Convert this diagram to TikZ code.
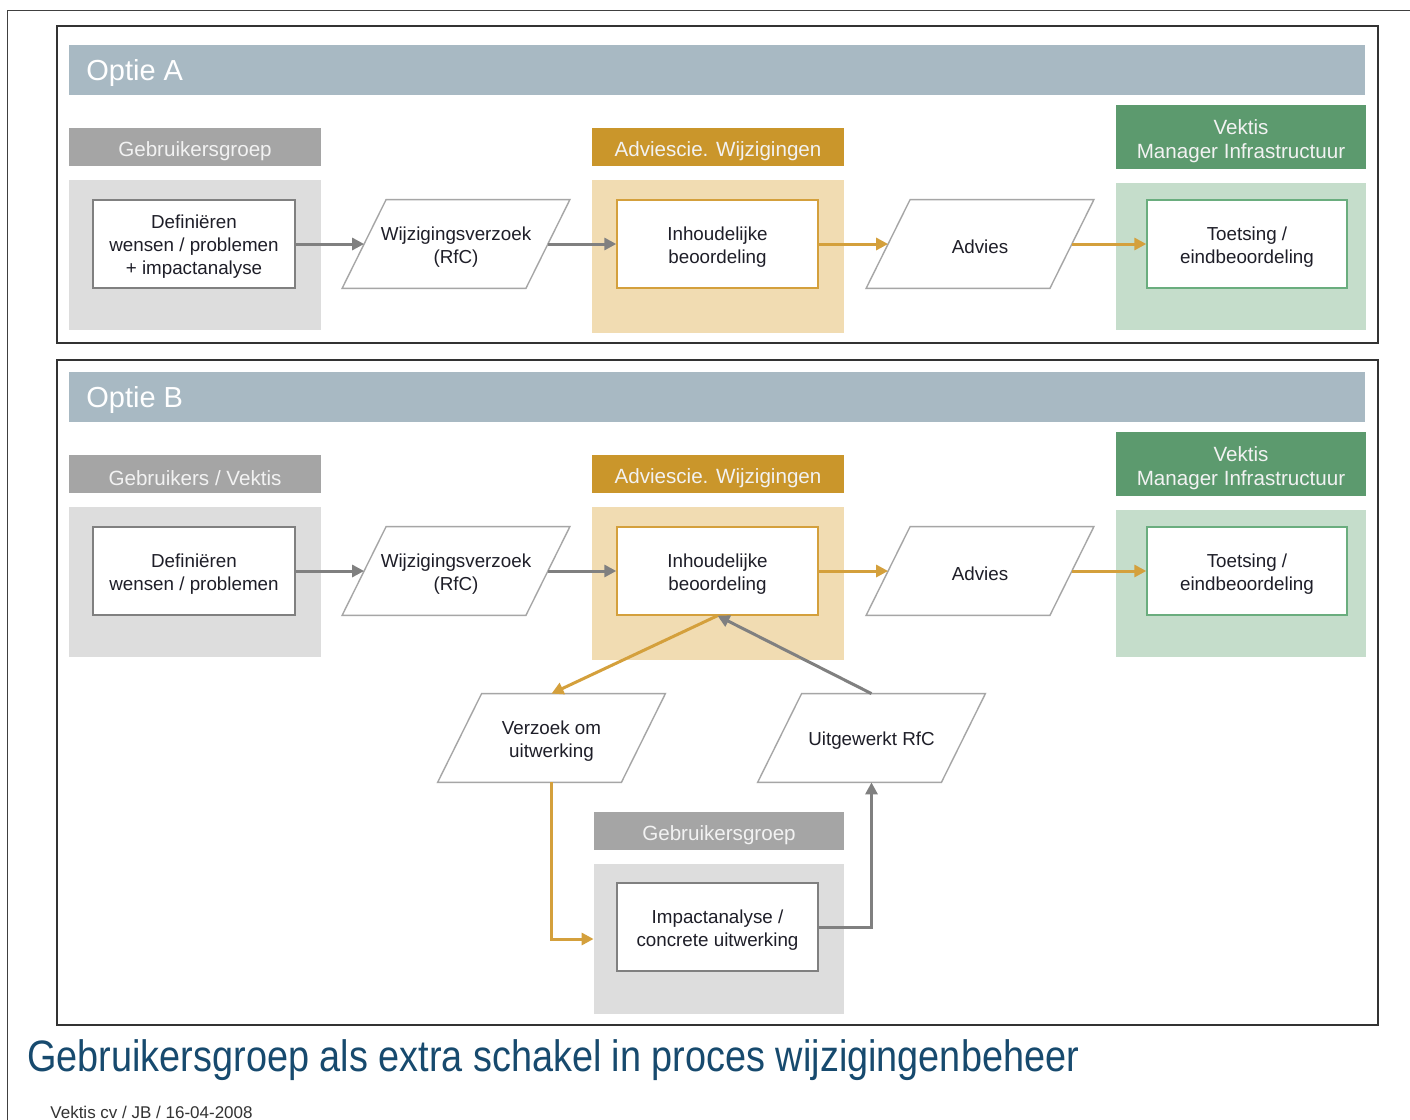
\documentclass[tikz,border=0pt]{standalone}
\usepackage{fontspec}
\setmainfont{Liberation Sans}
\newfontfamily\titlefont[FakeStretch=0.86]{Liberation Sans}
\usetikzlibrary{arrows.meta}

\definecolor{bandblue}{HTML}{A8B9C3}
\definecolor{lanegray}{HTML}{A5A5A5}
\definecolor{areagray}{HTML}{DDDDDD}
\definecolor{lanegold}{HTML}{CA962B}
\definecolor{areagold}{HTML}{F1DCB2}
\definecolor{linegold}{HTML}{D4A03C}
\definecolor{lanegreen}{HTML}{5C9A6E}
\definecolor{areagreen}{HTML}{C5DDCB}
\definecolor{linegreen}{HTML}{6AAD7E}
\definecolor{linegray}{HTML}{808080}
\definecolor{paragray}{HTML}{A6A6A6}
\definecolor{labeltext}{HTML}{F2F2F2}
\definecolor{boxtext}{HTML}{1E1E28}
\definecolor{titleblue}{HTML}{174A6E}

\tikzset{
    lanetext/.style={inner sep=0pt,align=center,text=labeltext,yshift=-2pt,
        font=\fontsize{10.3}{12}\selectfont},
    steptext/.style={inner sep=0pt,align=center,text=boxtext,yshift=-1.5pt,
        font=\fontsize{9.4}{11.5}\selectfont},
    lane/.style={minimum width=126pt,minimum height=19pt,inner sep=0pt,
        label={[lanetext]center:{#1}}},
    area/.style={minimum width=126pt,inner sep=0pt},
    stepbox/.style={draw,line width=0.7pt,fill=white,minimum width=101pt,minimum height=44pt,
        inner sep=0pt,label={[steptext]center:{#1}}},
    databox/.style={minimum width=91.5pt,minimum height=44pt,inner sep=0pt},
    paraline/.style={draw=paragray,fill=white,line width=0.7pt},
    grayarrow/.style={draw=linegray,line width=1.5pt,-{Triangle[length=6pt,width=6pt]}},
    goldarrow/.style={draw=linegold,line width=1.5pt,-{Triangle[length=6pt,width=6pt]}},
    frame/.style={draw=black!80,line width=0.8pt},
    bandtext/.style={anchor=west,inner sep=0pt,text=white,font=\fontsize{14.5}{17}\selectfont}
}

% parallelogram: name, position, text
\newcommand{\datanode}[3]{%
    \node [databox] (#1) at (#2) {};
    \filldraw [paraline] ([xshift=-11pt]#1.south west) -- ([xshift=11pt]#1.north west)
        -- ([xshift=11pt]#1.north east) -- ([xshift=-11pt]#1.south east) -- cycle;
    \node [steptext] (#1-text) at (#1) {#3};
}

\begin{document}
\begin{tikzpicture}[x=0.5pt,y=-0.5pt]
    \fill [white] (0,0) rectangle (1410,1120);
    \useasboundingbox (0,0) rectangle (1410,1120);

    % slide border
    \draw [black!75,line width=0.5pt] (1410,10) -- (7,10) -- (7,1120);

    % Optie A
    \draw [frame] (57,26) rectangle (1378,343);
    \fill [bandblue] (69,45) rectangle (1365,95);
    \node [bandtext] (optieA) at (86,73) {Optie A};

    \node [lane=Gebruikersgroep,fill=lanegray]        (gebrA) at (195,147) {};
    \node [lane={Adviescie. Wijzigingen},fill=lanegold] (acwA)  at (718,147) {};
    \node [lane={Vektis\\Manager Infrastructuur},fill=lanegreen,minimum width=125pt,minimum height=32pt] (vekA) at (1241,137) {};

    \node [area,fill=areagray,minimum height=75pt]   (grayA)  at (195,255)    {};
    \node [area,fill=areagold,minimum height=76.5pt] (goldA)  at (718,256.5)  {};
    \node [area,fill=areagreen,minimum width=125pt,minimum height=73.5pt] (greenA) at (1241,256.5) {};

    \node [stepbox={Definiëren\\wensen / problemen\\+ impactanalyse},draw=linegray] (defA) at (194,244) {};
    \datanode{rfcA}{456,244}{Wijzigingsverzoek\\(RfC)}
    \node [stepbox={Inhoudelijke\\beoordeling},draw=linegold,minimum width=100.5pt] (inhA) at (717.5,244) {};
    \datanode{adviesA}{980,244}{Advies}
    \node [stepbox={Toetsing /\\eindbeoordeling},draw=linegreen,minimum width=100pt] (toetsA) at (1247,244) {};

    \draw [grayarrow] (defA) -- (rfcA);
    \draw [grayarrow] (rfcA) -- (inhA);
    \draw [goldarrow] (inhA) -- (adviesA);
    \draw [goldarrow] (adviesA) -- (toetsA);

    % Optie B
    \draw [frame] (57,360) rectangle (1378,1025);
    \fill [bandblue] (69,372) rectangle (1365,422);
    \node [bandtext] (optieB) at (86,400) {Optie B};

    \node [lane={Gebruikers / Vektis},fill=lanegray]    (gebrB) at (195,474) {};
    \node [lane={Adviescie. Wijzigingen},fill=lanegold] (acwB)  at (718,474) {};
    \node [lane={Vektis\\Manager Infrastructuur},fill=lanegreen,minimum width=125pt,minimum height=32pt] (vekB) at (1241,464) {};

    \node [area,fill=areagray,minimum height=75pt]   (grayB)  at (195,582)    {};
    \node [area,fill=areagold,minimum height=76.5pt] (goldB)  at (718,583.5)  {};
    \node [area,fill=areagreen,minimum width=125pt,minimum height=73.5pt] (greenB) at (1241,583.5) {};

    \node [stepbox={Definiëren\\wensen / problemen},draw=linegray] (defB) at (194,571) {};
    \datanode{rfcB}{456,571}{Wijzigingsverzoek\\(RfC)}
    \node [stepbox={Inhoudelijke\\beoordeling},draw=linegold,minimum width=100.5pt] (inhB) at (717.5,571) {};
    \datanode{adviesB}{980,571}{Advies}
    \node [stepbox={Toetsing /\\eindbeoordeling},draw=linegreen,minimum width=100pt] (toetsB) at (1247,571) {};

    \datanode{verzoek}{551.5,738}{Verzoek om\\uitwerking}
    \datanode{uitgew}{871.5,738}{Uitgewerkt RfC}

    \node [lane=Gebruikersgroep,fill=lanegray,minimum width=125pt] (gebrC) at (719,831) {};
    \node [area,fill=areagray,minimum width=125pt,minimum height=75pt] (grayC) at (719,939) {};
    \node [stepbox={Impactanalyse /\\concrete uitwerking},draw=linegray,minimum width=100.5pt] (impact) at (717.5,927) {};

    \draw [grayarrow] (defB) -- (rfcB);
    \draw [grayarrow] (rfcB) -- (inhB);
    \draw [goldarrow] (inhB) -- (adviesB);
    \draw [goldarrow] (adviesB) -- (toetsB);
    \draw [goldarrow] (inhB.south) -- (verzoek.north);
    \draw [grayarrow] (uitgew.north) -- (inhB.south);
    \draw [goldarrow] (verzoek.south) |- (grayC.west);
    \draw [grayarrow] (impact.east) -| (uitgew.south);

    % title and footer
    \node [anchor=base west,inner sep=0pt,text=titleblue,font=\titlefont\fontsize{22}{26}\selectfont] (title) at (27,1071)
        {Gebruikersgroep als extra schakel in proces wijzigingenbeheer};
    \node [anchor=base west,inner sep=0pt,text=black!80,font=\fontsize{8.5}{10}\selectfont] (footer) at (50,1118)
        {Vektis cv / JB / 16-04-2008};
\end{tikzpicture}
\end{document}
